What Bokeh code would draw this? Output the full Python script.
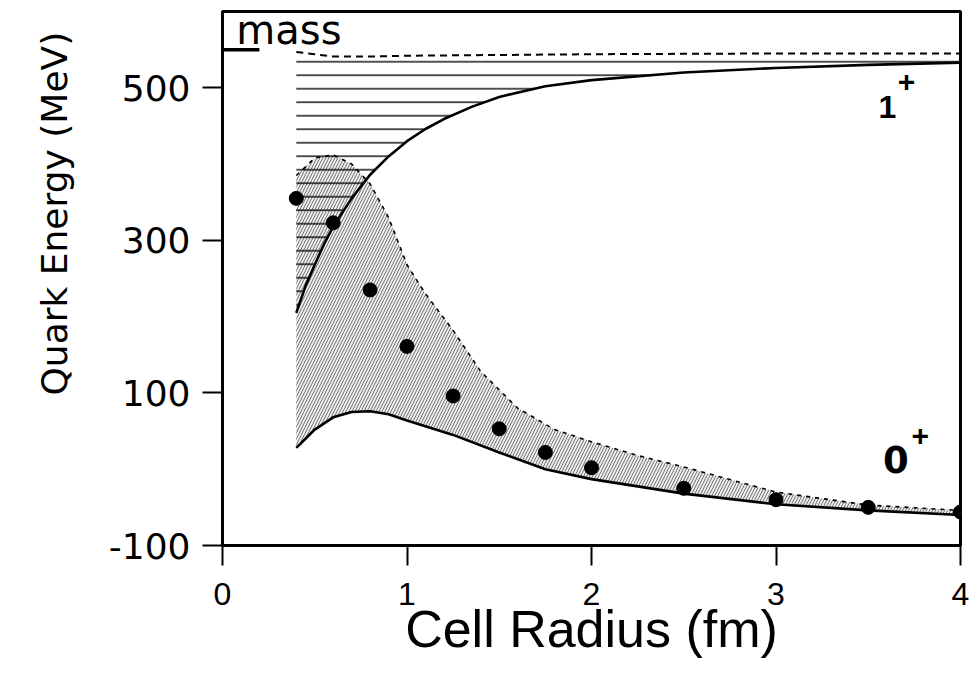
import math
from bokeh.plotting import figure
from bokeh.models import Range1d, FixedTicker, Label, Title
from bokeh.embed import file_html
from bokeh.resources import INLINE

# 1+ state (solid curve)
radius_1p = [0.4, 0.45, 0.5, 0.55, 0.6, 0.7, 0.8, 0.9, 1.0, 1.1, 1.2, 1.35, 1.5, 1.75, 2.0, 2.5, 3.0, 3.5, 4.0]
energy_1p = [205, 240, 268, 295, 318, 355, 386, 410, 430, 446, 459, 475, 488, 502, 510, 520, 526, 530, 533]

# upper dashed limit (near quark mass)
radius_top = [0.4, 0.5, 0.6, 0.8, 1.0, 1.5, 2.0, 3.0, 4.0]
energy_top = [547, 544, 541, 541, 542, 543, 544, 545, 545]

# 0+ state: lower solid curve
radius_0p_low = [0.4, 0.5, 0.6, 0.7, 0.8, 0.9, 1.0, 1.25, 1.5, 1.75, 2.0, 2.5, 3.0, 3.5, 4.0]
energy_0p_low = [28, 52, 68, 75, 76, 72, 64, 45, 22, 0, -13, -32, -46, -54, -60]

# 0+ state: upper dashed curve
radius_0p_up = [0.4, 0.5, 0.6, 0.7, 0.8, 0.9, 1.0, 1.1, 1.25, 1.4, 1.6, 1.8, 2.0, 2.25, 2.5, 3.0, 3.5, 4.0]
energy_0p_up = [385, 408, 412, 400, 374, 330, 268, 230, 182, 128, 80, 52, 36, 18, 3, -30, -47, -54]

# computed points
radius_pts = [0.4, 0.6, 0.8, 1.0, 1.25, 1.5, 1.75, 2.0, 2.5, 3.0, 3.5, 4.0]
energy_pts = [355, 323, 235, 161, 96, 53, 22, 2, -25, -40, -50, -56]

# quark mass marker
mass_x = [0.0, 0.2]
mass_y = [550, 550]

x_ticks = [0, 1, 2, 3, 4]
y_ticks = [-100, 100, 300, 500]
y_tick_labels = {-100: "-100", 100: "100", 300: "300", 500: "500"}

p = figure(width=980, height=676, x_range=Range1d(0, 4), y_range=Range1d(-100, 600),
           output_backend="svg", toolbar_location=None,
           min_border_left=222, min_border_right=20, min_border_top=11, min_border_bottom=131)

p.xgrid.visible = False
p.ygrid.visible = False
p.outline_line_color = "black"
p.outline_line_width = 3
p.outline_line_alpha = 1.0
p.background_fill_color = "white"
p.border_fill_color = "white"

for ax in (p.xaxis, p.yaxis):
    ax.axis_line_width = 3
    ax.axis_line_color = "black"
    ax.major_tick_out = 20
    ax.major_tick_in = 0
    ax.minor_tick_out = 0
    ax.minor_tick_in = 0
    ax.major_tick_line_width = 2
    ax.major_tick_line_color = "black"
    ax.major_label_text_color = "black"

p.xaxis.ticker = FixedTicker(ticks=x_ticks)
p.xaxis.major_label_text_font = "Liberation Sans"
p.xaxis.major_label_text_font_size = "32px"
p.xaxis.major_label_standoff = 17
p.xaxis.axis_label = "Cell Radius (fm)"
p.xaxis.axis_label_text_font = "Liberation Sans"
p.xaxis.axis_label_text_font_size = "52px"
p.xaxis.axis_label_text_font_style = "normal"
p.xaxis.axis_label_text_color = "black"
p.xaxis.axis_label_standoff = -8

p.yaxis.ticker = FixedTicker(ticks=y_ticks)
p.yaxis.major_label_overrides = y_tick_labels
p.yaxis.major_label_text_font = "DejaVu Sans"
p.yaxis.major_label_text_font_size = "36px"
p.yaxis.major_label_standoff = 12

# 0+ band (stipple + diagonal hatching)
band0_x = radius_0p_low + radius_0p_up[::-1]
band0_y = energy_0p_low + energy_0p_up[::-1]
p.patch(band0_x, band0_y, fill_color="#e6e6e6", fill_alpha=0.7, line_alpha=0,
        hatch_pattern="/", hatch_scale=6, hatch_weight=1.0, hatch_color="#111111", hatch_alpha=0.55)

# 1+ band (horizontal hatching) between 1+ curve and upper dashed limit
band1_x = radius_1p + radius_top[::-1]
band1_y = energy_1p + energy_top[::-1]
p.patch(band1_x, band1_y, fill_alpha=0, line_alpha=0,
        hatch_pattern="-", hatch_scale=13.5, hatch_weight=1.6, hatch_color="black", hatch_alpha=0.85)

# curves
p.line(radius_top, energy_top, line_color="black", line_width=2, line_dash="7 5")
p.line(radius_1p, energy_1p, line_color="black", line_width=2.6)
p.line(radius_0p_low, energy_0p_low, line_color="black", line_width=2.6)
p.line(radius_0p_up, energy_0p_up, line_color="black", line_width=1.6, line_dash="4 5")
p.line(mass_x, mass_y, line_color="black", line_width=3.5)

p.scatter(radius_pts, energy_pts, size=14, fill_color="black", line_color="black")

# texts
p.add_layout(Label(x=0.075, y=576, text="mass", text_font="DejaVu Sans", text_font_size="40px",
                   text_color="black", text_baseline="alphabetic", text_align="left"))
p.add_layout(Label(x=3.555, y=475, text="1", text_font="Liberation Sans", text_font_style="bold",
                   text_font_size="32px", text_color="black", text_baseline="alphabetic"))
p.add_layout(Label(x=3.66, y=507, text="+", text_font="Liberation Sans", text_font_style="bold",
                   text_font_size="30px", text_color="black", text_baseline="alphabetic"))
p.add_layout(Label(x=3.58, y=13, text="0", text_font="DejaVu Sans", text_font_style="bold",
                   text_font_size="37px", text_color="black", text_baseline="alphabetic"))
p.add_layout(Label(x=3.735, y=43, text="+", text_font="Liberation Sans", text_font_style="bold",
                   text_font_size="30px", text_color="black", text_baseline="alphabetic"))

# y axis title (placed on the left side, shifted upward like the original)
p.add_layout(Title(text="Quark Energy (MeV)", text_font="DejaVu Sans", text_font_size="36px",
                   text_font_style="normal", text_color="black", align="left",
                   offset=150, standoff=62), "left")

open("out.html", "w").write(file_html(p, INLINE))
